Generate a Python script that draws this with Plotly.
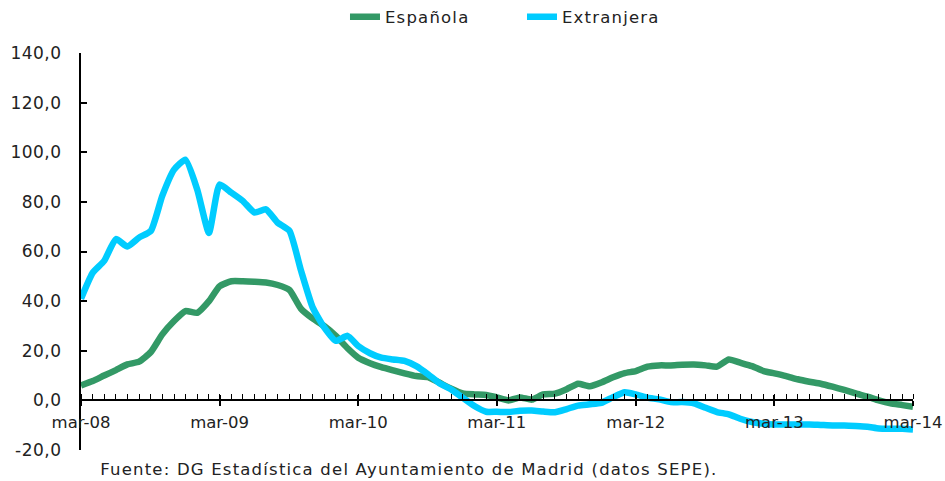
import plotly.graph_objects as go
import pandas as pd

months = pd.date_range("2008-03-01", periods=73, freq="MS").strftime("%Y-%m-%d").tolist()
tick_dates = ["2008-03-01", "2009-03-01", "2010-03-01", "2011-03-01",
              "2012-03-01", "2013-03-01", "2014-03-01"]
tick_labels = ["mar-08", "mar-09", "mar-10", "mar-11", "mar-12", "mar-13", "mar-14"]
y_ticks = [-20, 0, 20, 40, 60, 80, 100, 120, 140]
y_tick_labels = ["-20,0", "0,0", "20,0", "40,0", "60,0", "80,0", "100,0", "120,0", "140,0"]

espanola = [6.0, 7.8, 10.0, 12.2, 14.5, 15.6, 19.5, 26.6, 32.0, 36.0, 35.3, 40.0,
            46.0, 48.0, 48.0, 47.8, 47.5, 46.5, 44.5, 37.0, 33.0, 30.0, 26.0, 21.0,
            17.2, 15.0, 13.4, 12.1, 10.9, 9.8, 9.4, 7.1, 4.7, 2.8, 2.4, 2.2,
            1.2, 0.0, 1.2, 0.3, 2.4, 2.7, 4.5, 6.7, 5.7, 7.2, 9.3, 11.0,
            11.8, 13.6, 14.1, 14.1, 14.4, 14.5, 14.1, 13.6, 16.5, 15.2, 13.8, 11.8,
            10.9, 9.8, 8.5, 7.5, 6.7, 5.5, 4.2, 2.8, 1.5, 0.0, -1.2, -1.9,
            -2.6]
extranjera = [41.0, 51.5, 56.2, 65.0, 62.0, 65.6, 68.3, 82.4, 93.0, 97.0, 85.0, 67.5,
              87.0, 83.7, 80.4, 75.7, 77.0, 71.6, 68.3, 52.5, 37.5, 29.5, 24.0, 26.0,
              21.9, 19.0, 17.2, 16.5, 15.9, 13.8, 10.5, 6.9, 4.4, 1.1, -2.3, -4.6,
              -4.6, -4.7, -4.2, -4.1, -4.5, -4.8, -3.5, -2.1, -1.6, -1.0, 1.3, 3.3,
              2.4, 1.1, 0.4, -0.7, -0.7, -1.2, -3.0, -4.7, -5.6, -7.4, -8.7, -9.4,
              -9.7, -9.7, -9.7, -9.7, -9.9, -10.1, -10.1, -10.3, -10.6, -11.3, -11.4, -11.4,
              -11.7]

GREEN = "#339966"
BLUE = "#00CCFF"
FONT = "DejaVu Sans"
TXT = "#222222"

fig = go.Figure()
fig.add_trace(go.Scatter(x=months, y=espanola, name="Española", mode="lines",
                         line=dict(color=GREEN, width=6.5, shape="spline", smoothing=0.5)))
fig.add_trace(go.Scatter(x=months, y=extranjera, name="Extranjera", mode="lines",
                         line=dict(color=BLUE, width=6.5, shape="spline", smoothing=0.5)))
# helper trace so the overlay axis (inside major ticks) is drawn
fig.add_trace(go.Scatter(x=[months[0]], y=[None], xaxis="x2", yaxis="y",
                         showlegend=False, hoverinfo="skip", mode="lines"))

rng = [months[0], months[-1]]
fig.update_layout(
    width=945, height=481,
    margin=dict(l=81, r=32, t=53, b=31, autoexpand=False),
    paper_bgcolor="white", plot_bgcolor="white",
    font=dict(family=FONT, size=16.5, color=TXT),
    showlegend=True,
    legend=dict(orientation="h", x=0.3173, xanchor="left", y=1.0907, yanchor="middle",
                entrywidth=132, entrywidthmode="pixels",
                font=dict(family=FONT, size=16.5, color=TXT), bgcolor="rgba(0,0,0,0)"),
    xaxis=dict(type="date", range=rng, anchor="free", position=0.125, automargin=False,
               tickmode="array", tickvals=tick_dates, ticktext=tick_labels,
               tickfont=dict(family=FONT, size=16.5, color=TXT),
               ticks="outside", ticklen=5, tickwidth=1.5, tickcolor="black",
               showline=True, linecolor="black", linewidth=2, showgrid=False, zeroline=False,
               ticklabelstandoff=2,
               minor=dict(ticks="inside", ticklen=5, tickwidth=1.2, tickcolor="black",
                          dtick="M1", tick0="2008-03-01", showgrid=False)),
    xaxis2=dict(type="date", range=rng, overlaying="x", anchor="free", position=0.125,
                automargin=False,
                tickmode="array", tickvals=tick_dates, showticklabels=False,
                ticks="inside", ticklen=5, tickwidth=1.5, tickcolor="black",
                showline=False, showgrid=False, zeroline=False),
    yaxis=dict(range=[-20, 140], tickmode="array", tickvals=y_ticks, ticktext=y_tick_labels,
               automargin=False,
               tickfont=dict(family=FONT, size=17, color=TXT),
               ticks="inside", ticklen=6, tickwidth=1.5, tickcolor="black",
               showline=True, linecolor="black", linewidth=2, showgrid=False, zeroline=False,
               ticklabelstandoff=14),
    annotations=[dict(text="Fuente: DG Estadística del Ayuntamiento de Madrid (datos SEPE).",
                      xref="paper", yref="paper", x=0.394, y=-0.048,
                      xanchor="center", yanchor="middle", showarrow=False,
                      font=dict(family=FONT, size=16.5, color=TXT))],
)

post = """
document.body.style.margin = '0';
var gd = document.getElementById('{plot_id}');
gd.querySelectorAll('.annotation-text').forEach(function(t){ t.style.letterSpacing = '1.2px'; });
gd.querySelectorAll('.legendtext').forEach(function(t){ t.style.letterSpacing = '1.2px'; });
gd.querySelectorAll('.ytick text').forEach(function(t){ t.style.letterSpacing = '0.5px'; });
"""

fig.write_html("out.html", post_script=post, config={"displayModeBar": False})
